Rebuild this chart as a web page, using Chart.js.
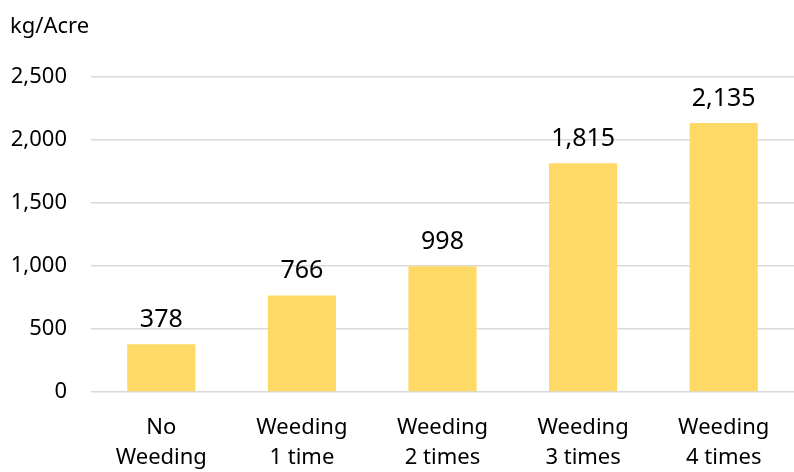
<!DOCTYPE html>
<html>
<head>
<meta charset="utf-8">
<script src="https://cdn.jsdelivr.net/npm/chart.js@4/dist/chart.umd.min.js"></script>
<style>
  html, body { margin: 0; padding: 0; background: #fff; }
  #wrap { width: 794px; height: 472px; position: relative; }
</style>
</head>
<body>
<div id="wrap"><canvas id="yieldChart"></canvas></div>
<script>
// chart data
const categories = [
  ["No", "Weeding"],
  ["Weeding", "1 time"],
  ["Weeding", "2 times"],
  ["Weeding", "3 times"],
  ["Weeding", "4 times"],
];
const yieldValues = [378, 766, 998, 1815, 2135];
const yTicks = [0, 500, 1000, 1500, 2000, 2500];
const unitLabel = "kg/Acre";

const FONT = "'Noto Sans', 'Open Sans', sans-serif";
const BAR_COLOR = "#FED966";

/**
 * Draws the value over each bar and the unit text top-left
 */
const labelPlugin = {
  id: "barLabels",
  afterDatasetsDraw(chart) {
    const ctx = chart.ctx;
    const meta = chart.getDatasetMeta(0);
    ctx.save();
    ctx.fillStyle = "#000";
    ctx.font = "25px " + FONT;
    ctx.textAlign = "center";
    ctx.textBaseline = "alphabetic";
    meta.data.forEach((bar, i) => {
      ctx.fillText(yieldValues[i].toLocaleString("en-US"), bar.x, bar.y - 17);
    });
    ctx.font = "22px " + FONT;
    ctx.textAlign = "left";
    ctx.fillText(unitLabel, 10, 33);
    ctx.restore();
  },
};

const ctx = document.getElementById("yieldChart").getContext("2d");

new Chart(ctx, {
  type: "bar",
  data: {
    labels: categories,
    datasets: [
      {
        data: yieldValues,
        backgroundColor: BAR_COLOR,
        borderWidth: 0,
        categoryPercentage: 1,
        barPercentage: 0.485,
      },
    ],
  },
  options: {
    responsive: true,
    maintainAspectRatio: false,
    animation: false,
    layout: { padding: { top: 77, left: 0, right: 0, bottom: 0 } },
    scales: {
      x: {
        grid: { display: false, drawTicks: false },
        border: { display: false },
        ticks: {
          color: "#000",
          padding: 21,
          maxRotation: 0,
          font: { family: FONT, size: 22, lineHeight: 1.36 },
        },
        afterFit: (scale) => { scale.height = 80; },
      },
      y: {
        min: 0,
        max: 2500,
        afterBuildTicks: (scale) => {
          scale.ticks = yTicks.map((v) => ({ value: v }));
        },
        grid: { color: "#D9D9D9", lineWidth: 1.5, drawTicks: false },
        border: { display: false },
        ticks: {
          color: "#000",
          padding: 24,
          font: { family: FONT, size: 22 },
          callback: (v) => v.toLocaleString("en-US"),
        },
        afterFit: (scale) => { scale.width = 91; },
      },
    },
    plugins: {
      legend: { display: false },
      tooltip: { enabled: false },
    },
  },
  plugins: [labelPlugin],
});
</script>
</body>
</html>
